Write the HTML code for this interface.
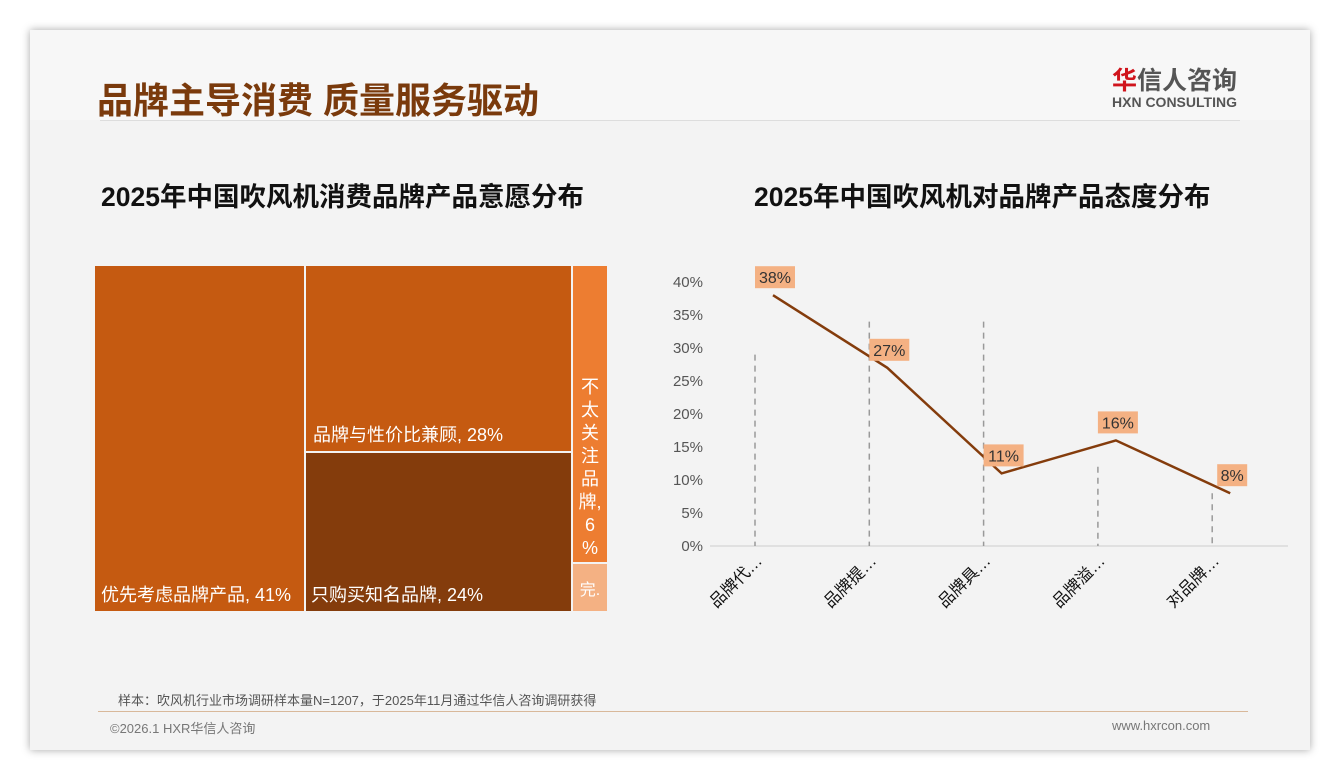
<!DOCTYPE html>
<html><head><meta charset="utf-8">
<style>
body{margin:0;width:1340px;height:780px;background:#fff;position:relative;overflow:hidden;font-family:"Liberation Sans","Noto Sans CJK SC",sans-serif}
.abs{position:absolute}
#card{left:30px;top:30px;width:1280px;height:720px;background:#f3f3f3;box-shadow:0 0 8px rgba(0,0,0,.35)}
.tm{position:absolute;color:#fff;font-size:18px;box-sizing:border-box}
</style></head><body>
<div id="card" class="abs"></div>
<div class="abs" style="left:30px;top:30px;width:1280px;height:90px;background:#f7f7f7"></div>
<div class="abs" style="left:97px;top:72px;font-size:36px;font-weight:bold;color:#7a3a0c;letter-spacing:0px">品牌主导消费 质量服务驱动</div>
<div class="abs" style="left:1112px;top:61px;font-size:25px;color:#555;font-weight:bold"><span style="color:#d0141c">华</span>信人咨询</div>
<div class="abs" style="left:1112px;top:94px;font-size:14px;color:#555;font-weight:bold">HXN CONSULTING</div>
<div class="abs" style="left:100px;top:120px;width:1140px;height:1px;background:#ddd"></div>
<div class="abs" style="left:101px;top:175px;font-size:26.5px;font-weight:bold;color:#111">2025年中国吹风机消费品牌产品意愿分布</div>
<div class="abs" style="left:754px;top:175px;font-size:26.5px;font-weight:bold;color:#111">2025年中国吹风机对品牌产品态度分布</div>

<div class="tm" style="left:95px;top:266px;width:209px;height:345px;background:#c55a11;padding:0 0 4px 6px;display:flex;align-items:flex-end">优先考虑品牌产品, 41%</div>
<div class="tm" style="left:306px;top:266px;width:265px;height:185px;background:#c55a11;padding:0 0 4px 7px;display:flex;align-items:flex-end">品牌与性价比兼顾, 28%</div>
<div class="tm" style="left:306px;top:453px;width:265px;height:158px;background:#843c0c;padding:0 0 4px 5px;display:flex;align-items:flex-end">只购买知名品牌, 24%</div>
<div class="tm" style="left:573px;top:266px;width:34px;height:296px;background:#ed7d31;text-align:center;padding-top:110px;line-height:23px;font-size:18px">不<br>太<br>关<br>注<br>品<br>牌,<br>6<br>%</div>
<div class="tm" style="left:573px;top:564px;width:34px;height:47px;background:#f4b183;text-align:center;padding-top:12px;font-size:16px">完.</div>

<svg class="abs" style="left:0;top:0" width="1340" height="780" id="chart"></svg>

<div class="abs" style="left:118px;top:690px;font-size:13px;color:#555">样本：吹风机行业市场调研样本量N=1207，于2025年11月通过华信人咨询调研获得</div>
<div class="abs" style="left:98px;top:711px;width:1150px;height:1px;background:#d8b89a"></div>
<div class="abs" style="left:110px;top:718px;font-size:13px;color:#777">©2026.1 HXR华信人咨询</div>
<div class="abs" style="left:1112px;top:718px;font-size:13px;color:#777">www.hxrcon.com</div>

<script>
const categories=["品牌代…","品牌提…","品牌具…","品牌溢…","对品牌…"];
const values=[38,27,11,16,8];
const dashTops=[29,34,34,12,8];
const yTicks=[0,5,10,15,20,25,30,35,40];
const NS="http://www.w3.org/2000/svg";
const svg=document.getElementById('chart');
const y=v=>546-v*6.6;
const x=i=>755+i*114.3;
function mk(t,a){const e=document.createElementNS(NS,t);for(const k in a)e.setAttribute(k,a[k]);svg.appendChild(e);return e;}
yTicks.forEach(t=>{const e=mk('text',{x:703,y:y(t)+5,'text-anchor':'end','font-size':15,fill:'#555'});e.textContent=t+'%';

});
const ax=mk('line',{x1:710,x2:1288,y1:546,y2:546,stroke:'#ccc'});


categories.forEach((c,i)=>{
const d=mk('line',{x1:x(i),x2:x(i),y1:y(dashTops[i]),y2:546,stroke:'#999','stroke-dasharray':'6,5','stroke-width':1.5});


const t=mk('text',{x:x(i)+8,y:562,'text-anchor':'end','font-size':16.5,fill:'#111',transform:`rotate(-45 ${x(i)+8} 562)`});t.textContent=c;


});
const px=i=>x(i)+18;
const pl=mk('polyline',{points:values.map((v,i)=>px(i)+','+y(v)).join(' '),fill:'none',stroke:'#843c0c','stroke-width':2.5});


values.forEach((v,i)=>{
const w=v>=10?40:30;const cx=px(i)+2;const cy=y(v)-18;
const r=mk('rect',{x:cx-w/2,y:cy-11,width:w,height:22,fill:'#f4b183'});


const t=mk('text',{x:cx,y:cy+6,'text-anchor':'middle','font-size':16,fill:'#333'});t.textContent=v+'%';


});
</script>
</body></html>
